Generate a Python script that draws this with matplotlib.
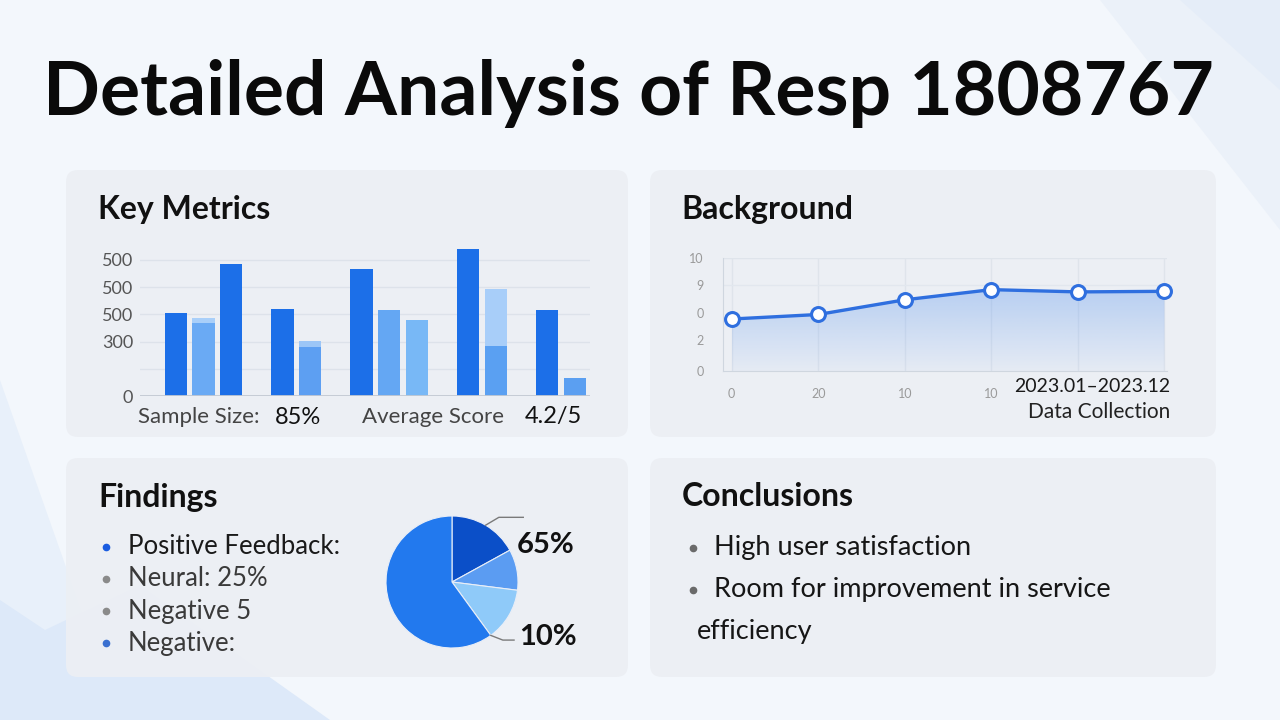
import matplotlib
matplotlib.use('Agg')
import matplotlib.pyplot as plt
import numpy as np
from matplotlib.patches import FancyBboxPatch, Polygon
from matplotlib.colors import to_rgb

plt.rcParams['font.family'] = ['Lato', 'DejaVu Sans']

# ---- data ----
title = 'Detailed Analysis of Resp 1808767'

# key metrics bars: groups of bars, base value + lighter cap stacked on top
bar_groups = [3, 2, 3, 2, 2]
bar_base = [305, 268, 485, 320, 180, 467, 316, 279, 540, 184, 316, 66]
bar_cap = [0, 19, 0, 0, 22, 0, 0, 0, 0, 209, 0, 0]
bar_ticks = [500, 400, 300, 200, 100, 0]
bar_tick_labels = ['500', '500', '500', '300', '', '0']
metric_labels = ['Sample Size:', '85%', 'Average Score', '4.2/5']

# background line chart
line_x_labels = ['0', '20', '10', '10', '', '']
line_values = [4.6, 5.0, 6.3, 7.2, 7.0, 7.05]
line_ticks = [10, 7.6, 5.1, 2.7, 0]
line_tick_labels = ['10', '9', '0', '2', '0']
period_label = '2023.01\u20132023.12'
period_sub = 'Data Collection'

# findings pie
pie_values = [17, 10, 13, 60]
findings = ['Positive Feedback:', 'Neural: 25%', 'Negative 5', 'Negative:']
pie_labels = ['65%', '10%']

conclusions = ['High user satisfaction', 'Room for improvement in service', 'efficiency']

# ---- styles ----
W, H = 1280, 720
DARK = '#1c6fe8'
bar_colors = [DARK, '#6aaaf4', DARK, DARK, '#5d9ff2', DARK, '#64a7f3', '#78b8f6', DARK, '#5aa0f2', DARK, '#5b9ff1']
cap_colors = ['none', '#a9cff9', 'none', 'none', '#9cc6f7', 'none', 'none', 'none', 'none', '#a8cef9', 'none', 'none']
pie_colors = ['#0b4fc8', '#5b9cf2', '#8fcaf9', '#2279ee']

fig = plt.figure(figsize=(12.8, 7.2), dpi=100)
fig.patch.set_facecolor('#f3f7fc')

bg = fig.add_axes([0, 0, 1, 1])
bg.set_xlim(0, W)
bg.set_ylim(H, 0)
bg.axis('off')

# soft background shapes
bg.add_patch(Polygon([(0, 380), (0, 720), (120, 720)], closed=True, fc='#e8f0fa', ec='none'))
bg.add_patch(Polygon([(0, 600), (45, 630), (140, 585), (330, 720), (0, 720)], closed=True, fc='#dde9f9', ec='none'))
bg.add_patch(Polygon([(1100, 0), (1280, 0), (1280, 230)], closed=True, fc='#ebf1f9', ec='none'))
bg.add_patch(Polygon([(1180, 0), (1280, 0), (1280, 90)], closed=True, fc='#e5edf8', ec='none'))

# panels
for (x0, y0, x1, y1) in [(66, 170, 628, 437), (650, 170, 1216, 437), (66, 458, 628, 677), (650, 458, 1216, 677)]:
    bg.add_patch(FancyBboxPatch((x0, y0), x1 - x0, y1 - y0, boxstyle='round,pad=0,rounding_size=12',
                                fc='#eceff4', ec='none', alpha=0.95))

bg.text(W / 2 - 12, 94, title, ha='center', va='center', fontsize=54, fontweight='bold', color='#0a0a0a')

for txt, x, y in [('Key Metrics', 98, 210), ('Background', 681, 210), ('Findings', 98, 497), ('Conclusions', 682, 496)]:
    bg.text(x, y, txt, ha='left', va='center', fontsize=23, fontweight='bold', color='#111111')

# ---- key metrics bars ----
ax1 = fig.add_axes([140 / W, 1 - 396 / H, 450 / W, 156 / H])
ax1.patch.set_alpha(0)
pos = []
p = 0.0
for g in bar_groups:
    for i in range(g):
        pos.append(p)
        p += 1.0
    p += 0.85
pos = np.array(pos)
ax1.bar(pos, bar_base, width=0.81, color=bar_colors, zorder=3)
ax1.bar(pos, bar_cap, bottom=bar_base, width=0.81, color=cap_colors, zorder=3)
ax1.set_xlim(-1.29, pos[-1] + 0.55)
ax1.set_ylim(0, 573)
ax1.set_yticks(bar_ticks)
ax1.set_yticklabels(bar_tick_labels)
ax1.set_xticks([])
ax1.tick_params(axis='y', length=0, pad=5, labelsize=13, labelcolor='#555555')
for t in bar_ticks[:-1]:
    ax1.axhline(t, color='#dde2ea', lw=1, zorder=1)
ax1.axhline(0, color='#c3c9d2', lw=1.3, zorder=4)
for s in ax1.spines.values():
    s.set_visible(False)

for txt, x, col, fs in zip(metric_labels, [138, 275, 362, 525], ['#444444', '#111111', '#444444', '#111111'],
                           [16, 17, 16, 17]):
    bg.text(x, 417, txt, ha='left', va='center', fontsize=fs, color=col)

# ---- background line chart ----
ax2 = fig.add_axes([723 / W, 1 - 371 / H, 444 / W, 113 / H])
ax2.patch.set_alpha(0)
xs = np.arange(len(line_values))
ys = np.array(line_values)
verts = list(zip(xs, ys)) + [(xs[-1], 0), (xs[0], 0)]
clip = Polygon(verts, closed=True, fc='none', ec='none')
ax2.add_patch(clip)
grad = np.zeros((100, 1, 4))
grad[..., :3] = to_rgb('#3d84ee')
grad[:, 0, 3] = np.linspace(0.30, 0.04, 100)
im = ax2.imshow(grad, extent=[xs[0], xs[-1], 0, ys.max()], origin='upper', aspect='auto', zorder=1)
im.set_clip_path(clip)
ax2.plot(xs, ys, color='#2f6fdf', lw=2.4, zorder=3, marker='o', markersize=10,
         markerfacecolor='white', markeredgecolor='#2f6fdf', markeredgewidth=2.2, clip_on=False)
ax2.set_xlim(-0.1, 5.03)
ax2.set_ylim(0, 10)
ax2.set_yticks(line_ticks)
ax2.set_yticklabels(line_tick_labels)
ax2.set_xticks(xs)
ax2.set_xticklabels(line_x_labels)
ax2.tick_params(axis='both', length=0, labelsize=9, labelcolor='#9a9a9a')
ax2.tick_params(axis='y', pad=14)
ax2.tick_params(axis='x', pad=12)
for t in xs:
    ax2.axvline(t, color='#dfe4eb', lw=1, zorder=0)
ax2.axhline(10, color='#dfe4eb', lw=1, zorder=0)
ax2.axhline(7.6, color='#e2e7ee', lw=1, zorder=0)
for k in ['top', 'right']:
    ax2.spines[k].set_visible(False)
for k in ['left', 'bottom']:
    ax2.spines[k].set_color('#cfd6df')
bg.text(1170, 387, period_label, ha='right', va='center', fontsize=14, color='#1a1a1a')
bg.text(1170, 412, period_sub, ha='right', va='center', fontsize=15, color='#222222')

# ---- findings ----
dot_cols = ['#1a5ce0', '#8a8a8a', '#8a8a8a', '#3a70d0']
txt_cols = ['#1a1a1a', '#3a3a3a', '#3a3a3a', '#3a3a3a']
for i, (txt, dc, tc) in enumerate(zip(findings, dot_cols, txt_cols)):
    y = 547 + i * 32
    bg.plot(106, y, 'o', color=dc, markersize=4.5)
    bg.text(128, y, txt, ha='left', va='center', fontsize=18.5, color=tc)

ax3 = fig.add_axes([(452 - 66) / W, 1 - (582 + 66) / H, 132 / W, 132 / H])
ax3.patch.set_alpha(0)
wedges, _ = ax3.pie(pie_values, colors=pie_colors, startangle=90, counterclock=False,
                    wedgeprops=dict(edgecolor='#e9eef7', linewidth=0.8))
ax3.set_xlim(-1, 1)
ax3.set_ylim(-1, 1)
ax3.set_aspect('equal')

w0, w2 = wedges[0], wedges[2]
a0 = np.deg2rad((w0.theta1 + w0.theta2) / 2)
a2 = np.deg2rad(w2.theta1)
lc = '#7a7a7a'
ax3.plot([np.cos(a0), 0.71, 1.08], [np.sin(a0), 0.98, 0.98], color=lc, lw=1, clip_on=False)
ax3.plot([np.cos(a2), 0.77, 0.94], [np.sin(a2), -0.88, -0.88], color=lc, lw=1, clip_on=False)
ax3.text(0.98, 0.56, pie_labels[0], ha='left', va='center', fontsize=21, fontweight='bold', color='#111111')
ax3.text(1.02, -0.83, pie_labels[1], ha='left', va='center', fontsize=21, fontweight='bold', color='#111111')

# ---- conclusions ----
for i, txt in enumerate(conclusions[:2]):
    y = 548 + i * 42
    bg.plot(693, y, 'o', color='#6a6a6a', markersize=4.5)
    bg.text(714, y, txt, ha='left', va='center', fontsize=19.5, color='#161616')
bg.text(697, 632, conclusions[2], ha='left', va='center', fontsize=19.5, color='#161616')

fig.savefig('out.png', dpi=100, facecolor=fig.get_facecolor())
